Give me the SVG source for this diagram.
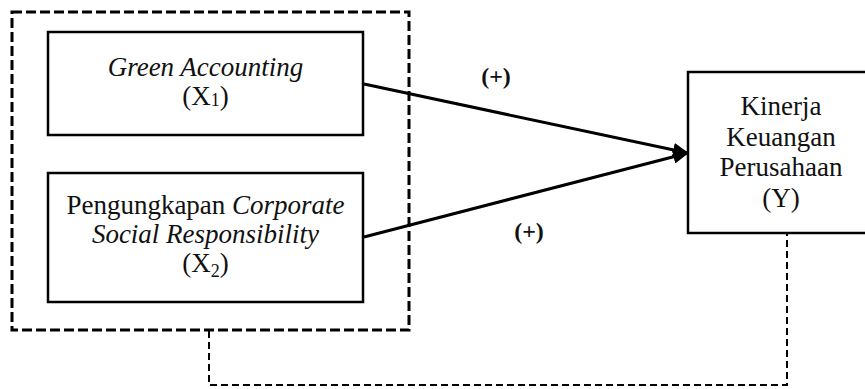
<svg xmlns="http://www.w3.org/2000/svg" width="865" height="389" viewBox="0 0 865 389">
<defs>
<style>
.box{fill:#fff;stroke:#000;stroke-width:2.5}
.t{font-family:'Liberation Serif','Times New Roman','DejaVu Serif',serif;font-size:27px;fill:#111;text-anchor:middle}
.i{font-style:italic}
.sub{font-size:18px}
.lbl{font-family:'Liberation Serif','Times New Roman','DejaVu Serif',serif;font-size:24px;font-weight:bold;fill:#111;text-anchor:middle}
.arrow{stroke:#000;stroke-width:3;fill:none}
.dash{stroke:#000;stroke-width:2;fill:none;stroke-dasharray:7 4}
.group{stroke:#000;stroke-width:3;fill:none;stroke-dasharray:10 4}
</style>
<marker id="ahb" markerWidth="16" markerHeight="14" refX="15" refY="7" orient="auto" markerUnits="userSpaceOnUse" viewBox="0 0 16 14">
<path d="M0,0 L16,7 L0,14 Z" fill="#000"/>
</marker>
</defs>
<rect width="865" height="389" fill="#fff"/>
<g id="group-x">
<rect class="group" x="12" y="12" width="397" height="318"/>
</g>
<g id="node-x1">
<rect class="box" x="48" y="32" width="315" height="103"/>
<text class="t i" x="205.5" y="76">Green Accounting</text>
<text class="t" x="205.5" y="105">(X<tspan class="sub" dy="1">1</tspan><tspan dy="-1">)</tspan></text>
</g>
<g id="node-x2">
<rect class="box" x="48" y="173" width="315" height="129"/>
<text class="t" x="205.5" y="214">Pengungkapan <tspan class="i">Corporate</tspan></text>
<text class="t i" x="205.5" y="243">Social Responsibility</text>
<text class="t" x="205.5" y="272">(X<tspan class="sub" dy="5">2</tspan><tspan dy="-5">)</tspan></text>
</g>
<g id="node-y">
<rect class="box" x="688" y="72" width="190" height="161"/>
<text class="t" x="781" y="115">Kinerja</text>
<text class="t" x="781" y="146">Keuangan</text>
<text class="t" x="781" y="176">Perusahaan</text>
<text class="t" x="781" y="207">(Y)</text>
</g>
<g id="connectors">
<line class="arrow" x1="364" y1="84" x2="688" y2="153" marker-end="url(#ahb)"/>
<line class="arrow" x1="364" y1="237" x2="688" y2="153" marker-end="url(#ahb)"/>
<polyline class="dash" points="209,331 209,385 787,385 787,234"/>
<text class="lbl" x="496" y="84">(+)</text>
<text class="lbl" x="529" y="239">(+)</text>
</g>
</svg>
